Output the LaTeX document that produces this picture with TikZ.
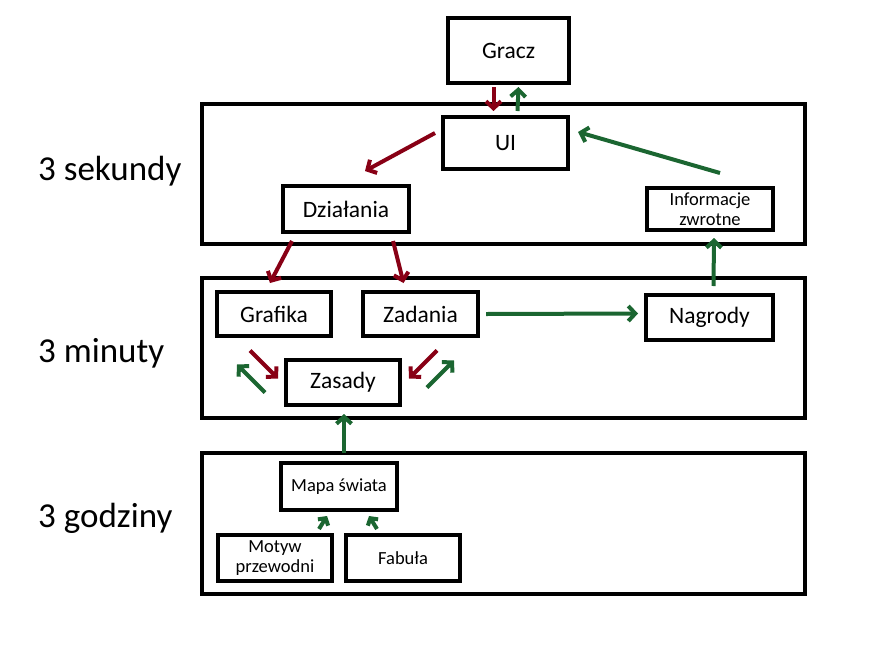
\documentclass[tikz,border=0pt]{standalone}
\usepackage{fontspec}
\setmainfont{Carlito}
\usetikzlibrary{arrows.meta,calc}
\definecolor{dred}{HTML}{880015}
\definecolor{dgreen}{HTML}{1B6631}
\tikzset{
  box/.style={draw=black, line width=4pt, inner sep=0pt, align=center, font=\fontsize{23.5}{26}\selectfont},
  sbox/.style={box, font=\fontsize{18.5}{20}\selectfont},
  band/.style={draw=black, line width=4pt, inner sep=0pt},
  lbl/.style={inner sep=0pt, anchor=west, font=\fontsize{35}{38}\selectfont},
  rarr/.style={draw=dred, line width=4pt, -{Straight Barb[length=7pt,width=15pt,line width=4pt]}},
  garr/.style={draw=dgreen, line width=4pt, -{Straight Barb[length=7pt,width=15pt,line width=4pt]}},
  gsarr/.style={draw=dgreen, line width=4pt, -{Straight Barb[length=5pt,width=12pt,line width=4pt]}}
}
\begin{document}
\begin{tikzpicture}[x=1pt,y=-1pt]
\useasboundingbox (0,0) rectangle (888,656);
% bands
\node[band, minimum width=603pt, minimum height=140pt] (band1) at (503.5,174) {};
\node[band, minimum width=603pt, minimum height=140pt] (band2) at (503.5,348) {};
\node[band, minimum width=603pt, minimum height=141pt] (band3) at (503.5,523.5) {};
% labels
\node[lbl] (l1) at (38,171) {3 sekundy};
\node[lbl] (l2) at (38,353) {3 minuty};
\node[lbl] (l3) at (38,518) {3 godziny};
% boxes
\node[box, minimum width=121pt, minimum height=65pt] (gracz) at (508.5,50.5) {Gracz};
\node[box, minimum width=125pt, minimum height=52pt] (ui) at (505.5,143) {UI};
\node[box, minimum width=126pt, minimum height=46pt] (dzial) at (346,209) {Działania};
\node[sbox, minimum width=126pt, minimum height=42pt] (info) at (710,209) {Informacje\\zwrotne};
\node[box, minimum width=114pt, minimum height=44pt] (graf) at (274,314) {Grafika};
\node[box, minimum width=115pt, minimum height=44pt] (zad) at (420.5,314) {Zadania};
\node[box, minimum width=127pt, minimum height=45pt] (nagr) at (709.5,317.5) {Nagrody};
\node[box, minimum width=114pt, minimum height=45pt] (zas) at (343,382.5) {Zasady};
\node[sbox, minimum width=116pt, minimum height=47pt] (mapa) at (339,486.5) {Mapa świata};
\node[sbox, minimum width=114pt, minimum height=46pt] (motyw) at (275,558) {Motyw\\przewodni};
\node[sbox, minimum width=114pt, minimum height=46pt] (fab) at (403,558) {Fabuła};
% arrows
\draw[rarr] ($(gracz.south)+(-15,2)$) -- ($(ui.north)+(-12,-4)$);
\draw[garr] ($(ui.north)+(12,-4)$) -- ($(gracz.south)+(10,2)$);
\draw[rarr] ($(ui.west)+(-6,-10)$) -- ($(dzial.north)+(19,-13)$);
\draw[garr] ($(info.north)+(10,-13)$) -- ($(ui.east)+(8,-11)$);
\draw[garr] ($(nagr.north)+(4,-7)$) -- ($(info.south)+(4,6)$);
\draw[rarr] ($(dzial.south)+(-54,7)$) -- ($(graf.north)+(-4,-7)$);
\draw[rarr] ($(dzial.south)+(47,7)$) -- ($(zad.north)+(-17,-7)$);
\draw[garr] ($(zad.east)+(6,0)$) -- ($(nagr.west)+(-6,-4)$);
\draw[rarr] ($(zas.west)+(-34,-32)$) -- ($(zas.west)+(-6,-4)$);
\draw[garr] ($(zas.west)+(-19,10)$) -- ($(zas.west)+(-47,-18)$);
\draw[rarr] ($(zas.east)+(35,-32)$) -- ($(zas.east)+(7,-4)$);
\draw[garr] ($(zas.east)+(25,5)$) -- ($(zas.east)+(52,-22)$);
\draw[garr] ($(mapa.north)+(5,-8)$) -- ($(zas.south)+(1,7)$);
\draw[gsarr] ($(motyw.north)+(44,-4)$) -- ($(mapa.south)+(-12,4)$);
\draw[gsarr] ($(fab.north)+(-26,-4)$) -- ($(mapa.south)+(30,4)$);
\end{tikzpicture}
\end{document}
